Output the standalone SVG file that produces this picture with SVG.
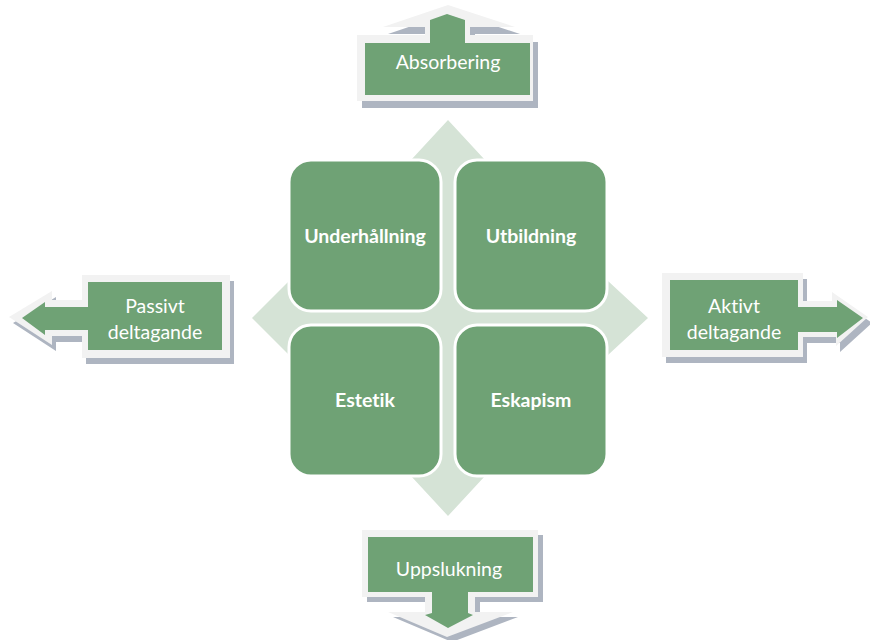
<svg xmlns="http://www.w3.org/2000/svg" width="870" height="640" viewBox="0 0 870 640">
  <style>
    text { font-variant-ligatures: none; font-feature-settings: "liga" 0; }
    .hub { fill: #D5E3D6; }
    .tile rect { fill: #6FA275; stroke: #FFFFFF; stroke-width: 3; }
    .tile text { font-family: Lato, "Noto Sans", sans-serif; font-weight: bold; font-size: 19.5px; fill: #FFFFFF; text-anchor: middle; }
    .shadow { fill: #AEB5C1; }
    .rim { fill: #F2F2F2; }
    .face { fill: #6FA275; }
    .callout text { font-family: Lato, "Noto Sans", sans-serif; font-size: 19.5px; fill: #FFFFFF; text-anchor: middle; }
  </style>

  <!-- four-way arrow behind the quadrants -->
  <g id="hub">
    <polygon class="hub" points="448,120 485,160 478,160 478,288 608,288 608,281 648,318 608,355 608,348 478,348 478,476 485,476 448,516 411,476 418,476 418,348 289,348 289,355 252,318 289,281 289,288 418,288 418,160 411,160"/>
  </g>

  <!-- quadrants -->
  <g id="underhallning" class="tile">
    <rect x="289" y="160" width="152" height="151" rx="22"/>
    <text x="365" y="243">Underhållning</text>
  </g>
  <g id="utbildning" class="tile">
    <rect x="455" y="160" width="152" height="151" rx="22"/>
    <text x="531" y="243">Utbildning</text>
  </g>
  <g id="estetik" class="tile">
    <rect x="289" y="325" width="152" height="151" rx="22"/>
    <text x="365" y="407">Estetik</text>
  </g>
  <g id="eskapism" class="tile">
    <rect x="455" y="325" width="152" height="151" rx="22"/>
    <text x="531" y="407">Eskapism</text>
  </g>

  <!-- arrow callouts on the four axes -->
  <g id="absorbering" class="callout">
    <polygon class="shadow" transform="translate(5,7)" points="357,35 425,35 425,27 383,27 448,5 515,27 470,27 470,35 533,35 533,101 357,101"/>
    <polygon class="rim" points="357,35 425,35 425,27 383,27 448,5 515,27 470,27 470,35 533,35 533,101 357,101"/>
    <polygon class="face" points="365,43 430,43 430,20 447,14 465,20 465,43 530,43 530,95 365,95"/>
    <text x="448" y="69">Absorbering</text>
  </g>

  <g id="passivt" class="callout">
    <polygon class="shadow" transform="translate(4,6)" points="230,275 82,275 82,300 52,300 52,291 9,317 52,345 52,336 82,336 82,358 230,358"/>
    <polygon class="rim" points="230,275 82,275 82,300 52,300 52,291 9,317 52,345 52,336 82,336 82,358 230,358"/>
    <polygon class="face" points="222,282 88,282 88,307 45,307 45,302 22,318 45,335 45,330 88,330 88,350 222,350"/>
    <text x="155" y="313">Passivt</text>
    <text x="155" y="339">deltagande</text>
  </g>

  <g id="aktivt" class="callout">
    <polygon class="shadow" transform="translate(4,6)" points="662,273 803,273 803,301 832,301 832,292 868,317 836,346 836,337 803,337 803,357 662,357"/>
    <polygon class="rim" points="662,273 803,273 803,301 832,301 832,292 868,317 836,346 836,337 803,337 803,357 662,357"/>
    <polygon class="face" points="670,280 798,280 798,307 837,307 837,300 863,318 837,338 837,332 798,332 798,350 670,350"/>
    <text x="734" y="313">Aktivt</text>
    <text x="734" y="339">deltagande</text>
  </g>

  <g id="uppslukning" class="callout">
    <polygon class="shadow" transform="translate(5,5)" points="362,530 538,530 538,597 475,597 475,612 513,612 447,637 388,612 425,612 425,597 362,597"/>
    <polygon class="rim" points="362,530 538,530 538,597 475,597 475,612 513,612 447,637 388,612 425,612 425,597 362,597"/>
    <polygon class="face" points="368,537 533,537 533,592 468,592 468,613 473,615 448,628 425,615 432,613 432,592 368,592"/>
    <text x="449" y="576">Uppslukning</text>
  </g>
</svg>
